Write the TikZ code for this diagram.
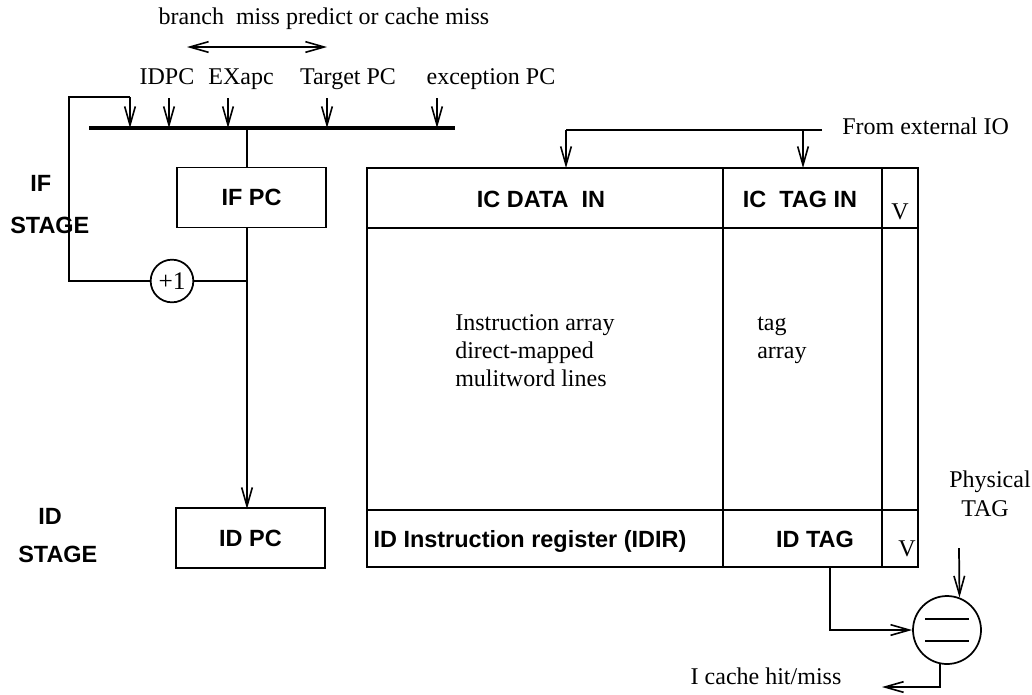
\documentclass[tikz,border=0pt]{standalone}
\usepackage{fontspec}
\setmainfont{Liberation Serif}
\newfontfamily\hvbold{Liberation Sans}
\usetikzlibrary{arrows.meta}

\tikzset{
  wire/.style={line width=1.3pt, line cap=butt},
  arr/.style={wire, -{Straight Barb[length=14pt,width=8pt,line width=1.2pt]}},
  darr/.style={wire, {Straight Barb[length=14pt,width=8pt,line width=1.2pt]}-{Straight Barb[length=14pt,width=8pt,line width=1.2pt]}},
  bus/.style={line width=2.3pt},
  serif/.style={inner sep=0pt, font=\fontsize{18}{22}\selectfont, text height=1.5ex, text depth=0pt},
  bold/.style={inner sep=0pt, font=\hvbold\bfseries\fontsize{17.6}{21}\selectfont, text height=1.5ex, text depth=0pt},
  regbox/.style={draw, line width=1.3pt, inner sep=0pt, minimum width=111.75pt, minimum height=45pt,
                 font=\hvbold\bfseries\fontsize{17.6}{21}\selectfont},
  cmpcircle/.style={draw, line width=1.3pt, circle, minimum size=51pt, inner sep=0pt},
  inccircle/.style={draw, line width=1.3pt, circle, minimum size=32pt, inner sep=0pt,
                    font=\fontsize{19}{22}\selectfont},
}

\begin{document}
\begin{tikzpicture}[x=0.75pt, y=-0.75pt]
\useasboundingbox (0,0) rectangle (1032,694);

% ---------- next-PC selection ----------
\node[serif] (why) at (324,20) {branch~~miss predict or cache miss};
\coordinate (dl) at (187,47);
\coordinate (dr) at (327,47);
\draw[darr] (dl) -- (dr);

\node[serif] (idpc)   at (167,80) {IDPC};
\node[serif] (exapc)  at (241,80) {EXapc};
\node[serif] (tgtpc)  at (348,80) {Target PC};
\node[serif] (excpc)  at (491,80) {exception PC};

\coordinate (busl) at (89,128);
\coordinate (busr) at (455,128);
\draw[bus] (busl) -- (busr);

\foreach \x/\n in {169/a, 228/b, 327/c, 437/d}{
  \coordinate (src\n) at (\x,98);
  \coordinate (dst\n) at (\x,128);
  \draw[arr] (src\n) -- (dst\n);
}

% ---------- IF / ID program counters ----------
\node[regbox] (ifpc) at (251.5,197.5) {IF PC};
\node[regbox] (idpc_reg) at (250.5,538) {ID PC};

\coordinate (busjoin) at (247,128);
\draw[wire] (busjoin) -- (busjoin |- ifpc.north);

\coordinate (ifout) at (247,228);
\coordinate (idin)  at (247,509);
\draw[arr] (ifout) -- (idin);

% incrementer feedback loop
\node[inccircle] (inc) at (172,281) {+1};
\coordinate (tap) at (247,281);
\draw[wire] (tap) -- (inc.east);
\coordinate (loopbl) at (69,281);
\coordinate (looptl) at (69,97);
\coordinate (looptr) at (130,97);
\coordinate (loopin) at (130,128);
\draw[wire] (inc.west) -- (loopbl) -- (looptl) -- (looptr);
\draw[arr] (looptr) -- (loopin);

% stage labels
\node[bold, anchor=west] (ifs1) at (30,187) {IF};
\node[bold, anchor=west] (ifs2) at (10,229) {STAGE};
\node[bold, anchor=west] (ids1) at (38,520) {ID};
\node[bold, anchor=west] (ids2) at (18,558) {STAGE};

% ---------- instruction cache ----------
\coordinate (cnw) at (367,168);
\coordinate (cse) at (918,567);
\draw[wire] (cnw) rectangle (cse);
\draw[wire] (367,228) -- (918,228);
\draw[wire] (367,510) -- (918,510);
\draw[wire] (723,168) -- (723,567);
\draw[wire] (882,168) -- (882,567);

\node[bold]  (icdata) at (541,203) {IC DATA~~IN};
\node[bold]  (ictag)  at (800,203) {IC~~TAG IN};
\node[serif] (vtop)   at (900,215) {V};

\node[serif, anchor=west] (arr1) at (455,326) {Instruction array};
\node[serif, anchor=west] (arr2) at (455,354) {direct-mapped};
\node[serif, anchor=west] (arr3) at (455,382) {mulitword lines};
\node[serif, anchor=west] (tag1) at (757,326) {tag};
\node[serif, anchor=west] (tag2) at (757,354) {array};

\node[bold]  (idir)  at (530,543) {ID Instruction register (IDIR)};
\node[bold]  (idtag) at (815,543) {ID TAG};
\node[serif] (vbot)  at (907,552) {V};

% refill path
\node[serif, anchor=west] (extio) at (842,130) {From external IO};
\coordinate (ioend)  at (822,130);
\coordinate (iotag)  at (803,130);
\coordinate (iodata) at (566,130);
\draw[wire] (ioend) -- (iodata);
\draw[arr] (iodata) -- (566,168);
\draw[arr] (iotag) -- (803,168);

% ---------- tag comparator ----------
\node[cmpcircle] (cmp) at (947,630) {};
\draw[wire] (cmp.center) ++(-22,-11) -- ++(44,0);
\draw[wire] (cmp.center) ++(-22,11) -- ++(44,0);

\coordinate (tagout) at (830,567);
\draw[arr] (tagout) |- (cmp.west);

\node[serif] (phys1) at (990,483) {Physical};
\node[serif] (phys2) at (985,512) {TAG};
\coordinate (physin) at (959,548);
\draw[arr] (physin) -- (cmp.69);

\node[serif] (hit) at (766,680) {I cache hit/miss};
\coordinate (hitend) at (882,687);
\draw[arr] (cmp.-102) |- (hitend);

\end{tikzpicture}
\end{document}
